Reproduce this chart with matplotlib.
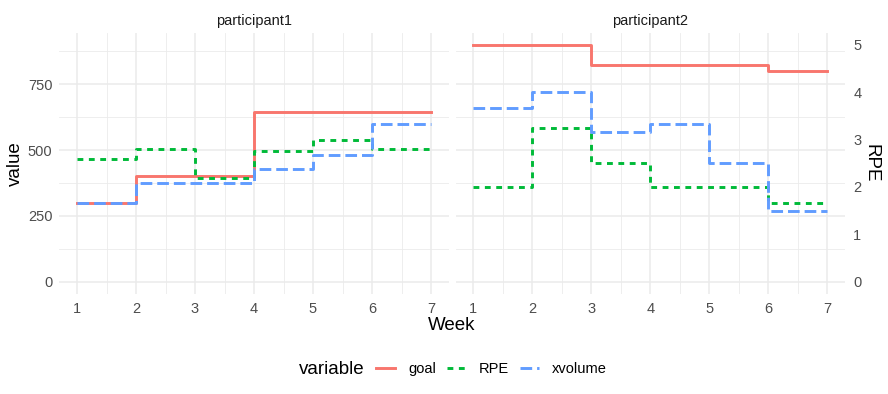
import matplotlib
matplotlib.use("Agg")
import matplotlib.pyplot as plt
from matplotlib.lines import Line2D

plt.rcParams['font.family'] = ['Liberation Sans', 'DejaVu Sans']

weeks = [1, 2, 3, 4, 5, 6, 7]
participants = ["participant1", "participant2"]
variables = ["goal", "RPE", "xvolume"]

# participant1
p1_goal = [300, 400, 400, 645, 645, 645, 645]
p1_rpe = [2.6, 2.8, 2.2, 2.75, 3.0, 2.8, 2.8]
p1_xvolume = [300, 375, 375, 430, 480, 600, 600]

# participant2
p2_goal = [900, 900, 825, 825, 825, 800, 800]
p2_rpe = [2.0, 3.25, 2.5, 2.0, 2.0, 1.67, 1.67]
p2_xvolume = [660, 720, 570, 600, 450, 270, 270]

rpe_scale = 180  # RPE drawn on the value axis as RPE * 180

y_ticks = [0, 250, 500, 750]
y_minor = [125, 375, 625, 875]
rpe_ticks = [0, 1, 2, 3, 4, 5]

colors = {"goal": "#F8766D", "RPE": "#00BA38", "xvolume": "#619CFF"}
dashes = {"goal": None, "RPE": (2.0, 1.9), "xvolume": (4.0, 1.7)}
lw = 2.1

data = {
    "participant1": {"goal": p1_goal, "RPE": [r * rpe_scale for r in p1_rpe], "xvolume": p1_xvolume},
    "participant2": {"goal": p2_goal, "RPE": [r * rpe_scale for r in p2_rpe], "xvolume": p2_xvolume},
}

W, H = 888, 394
fig = plt.figure(figsize=(W / 100, H / 100), dpi=100)

panel_top, panel_bot = 33, 293.6
lefts = [59.3, 455.6]
pw = 389.4

grid_col = "#EBEBEB"
tick_col = "#4D4D4D"
title_size = 13.5

axes = []
for i, p in enumerate(participants):
    ax = fig.add_axes([lefts[i] / W, 1 - panel_bot / H, pw / W, (panel_bot - panel_top) / H])
    axes.append(ax)
    for v in variables:
        ln, = ax.step(weeks, data[p][v], where="post", color=colors[v], lw=lw, zorder=3)
        if dashes[v] is not None:
            ln.set_dashes(dashes[v])
            ln.set_dash_capstyle("butt")
    ax.set_xlim(0.7, 7.3)
    ax.set_ylim(-45, 945)
    ax.set_xticks(weeks)
    ax.set_xticks([1.5, 2.5, 3.5, 4.5, 5.5, 6.5], minor=True)
    ax.set_yticks(y_ticks)
    ax.set_yticks(y_minor, minor=True)
    ax.grid(True, which="major", color=grid_col, lw=1.1, zorder=0)
    ax.grid(True, which="minor", color=grid_col, lw=0.6, zorder=0)
    for s in ax.spines.values():
        s.set_visible(False)
    ax.tick_params(which="both", length=0)
    ax.tick_params(axis="x", labelsize=10.5, colors=tick_col, pad=6)
    ax.tick_params(axis="y", labelsize=10.5, colors=tick_col, pad=5)
    ax.set_title(p, fontsize=10.5, color="#1A1A1A", pad=6)
    if i == 1:
        ax.tick_params(axis="y", labelleft=False)
        sec = ax.secondary_yaxis("right", functions=(lambda v: v / rpe_scale, lambda r: r * rpe_scale))
        sec.set_yticks(rpe_ticks)
        sec.tick_params(length=0, labelsize=10.5, colors=tick_col, pad=6)
        for s in sec.spines.values():
            s.set_visible(False)
        sec.set_ylabel("RPE", rotation=-90, fontsize=title_size, labelpad=13)

axes[0].set_ylabel("value", fontsize=title_size, labelpad=3)
fig.text(452 / W, 1 - 326 / H, "Week", ha="center", va="center", fontsize=title_size)

handles = []
for v in variables:
    h = Line2D([], [], color=colors[v], lw=lw)
    if dashes[v] is not None:
        h.set_dashes(dashes[v])
        h.set_dash_capstyle("butt")
    handles.append(h)
fig.text(332 / W, 1 - 369 / H, "variable", ha="center", va="center", fontsize=title_size)
fig.legend(handles, variables, loc="center left", bbox_to_anchor=(376 / W, 1 - 369 / H),
           ncol=3, frameon=False, fontsize=10.5, handlelength=1.3, handletextpad=0.9,
           columnspacing=0.75, borderaxespad=0, borderpad=0)

fig.savefig("out.png", dpi=100, facecolor="white")
